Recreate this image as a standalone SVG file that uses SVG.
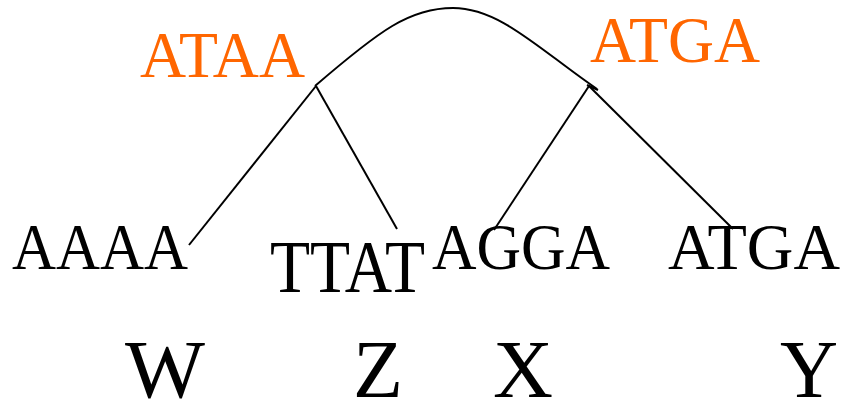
<svg xmlns="http://www.w3.org/2000/svg" width="848" height="404" viewBox="0 0 848 404">
<style>
text{font-family:"Liberation Serif","Times New Roman",serif;}
.leaf{font-size:65px;fill:#000;}
.big{font-size:75px;}
.anc{font-size:66px;fill:#FF6600;}
.lab{font-size:82px;fill:#000;}
.edge{fill:none;stroke:#000;stroke-width:2;}
</style>
<rect width="848" height="404" fill="#fff"/>
<g id="connectors">
<path class="edge" d="M315,86 C380,30 410,8 453,8 C500,8 540,50 597,89"/>
<path class="edge" d="M587,85 L598,90"/>
<line class="edge" x1="316" y1="86" x2="189" y2="245"/>
<line class="edge" x1="316" y1="86" x2="397" y2="229"/>
<line class="edge" x1="589" y1="86" x2="494" y2="230"/>
<line class="edge" x1="589" y1="86" x2="733" y2="229"/>
</g>
<g id="anc-ATAA"><text class="anc" x="140" y="77" textLength="165" lengthAdjust="spacingAndGlyphs">ATAA</text></g>
<g id="anc-ATGA"><text class="anc" x="590" y="62" textLength="170" lengthAdjust="spacingAndGlyphs">ATGA</text></g>
<g id="leaf-AAAA"><text class="leaf" x="12" y="269" textLength="176" lengthAdjust="spacingAndGlyphs">AAAA</text></g>
<g id="leaf-TTAT"><text class="leaf big" x="270" y="292" textLength="155" lengthAdjust="spacingAndGlyphs">TTAT</text></g>
<g id="leaf-AGGA"><text class="leaf" x="432" y="269" textLength="178" lengthAdjust="spacingAndGlyphs">AGGA</text></g>
<g id="leaf-ATGA"><text class="leaf" x="668" y="269" textLength="172" lengthAdjust="spacingAndGlyphs">ATGA</text></g>
<g id="label-W"><text class="lab" x="125" y="397" textLength="80" lengthAdjust="spacingAndGlyphs">W</text></g>
<g id="label-Z"><text class="lab" x="353" y="397" textLength="50" lengthAdjust="spacingAndGlyphs">Z</text></g>
<g id="label-X"><text class="lab" x="493" y="397" textLength="60" lengthAdjust="spacingAndGlyphs">X</text></g>
<g id="label-Y"><text class="lab" x="780" y="397" textLength="58" lengthAdjust="spacingAndGlyphs">Y</text></g>
</svg>
